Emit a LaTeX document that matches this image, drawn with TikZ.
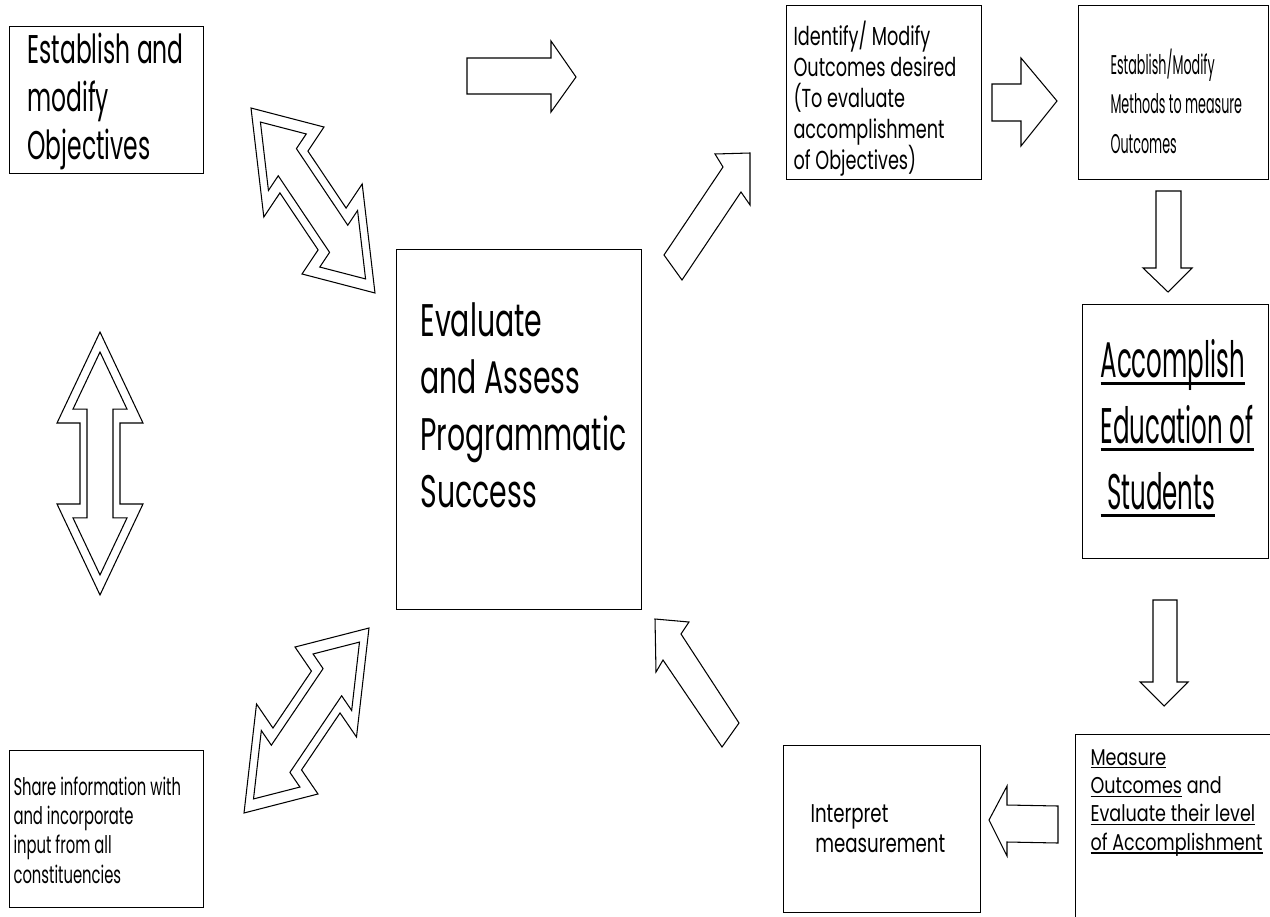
\documentclass[tikz,border=0pt]{standalone}
\usepackage{fontspec}
\setmainfont{Poppins}
\usepackage{tikz}
\newcommand{\uln}[1]{\setbox0\hbox{#1}\rlap{\rule[-0.15em]{\wd0}{0.06em}}\box0\relax}
\newcommand{\boxtext}[2]{\scalebox{#1}[1]{\vtop{\lineskiplimit=-\maxdimen\let\\\cr\halign{##\hfil\cr#2\crcr}}}}

\begin{document}
\begin{tikzpicture}[x=0.02cm,y=-0.02cm,line width=0.6pt]
\tikzstyle{box}=[draw,inner sep=0pt,anchor=north west]
\tikzstyle{txt}=[inner sep=0pt,anchor=base west]
\useasboundingbox (0,0) rectangle (1270,916);
\node[box,minimum width=3.88cm,minimum height=2.94cm] (obj) at (9,26) {};
\node[box,minimum width=4.9cm,minimum height=7.2cm] (eval) at (396,249) {};
\node[box,minimum width=3.9cm,minimum height=3.48cm] (ident) at (786,5) {};
\node[box,minimum width=3.8cm,minimum height=3.48cm] (meth) at (1078,5) {};
\node[box,minimum width=3.72cm,minimum height=5.08cm] (acc) at (1082,304) {};
\node[box,minimum width=4cm,minimum height=3.8cm] (meas) at (1075,734) {};
\node[box,minimum width=3.94cm,minimum height=3.34cm] (interp) at (783,745) {};
\node[box,minimum width=3.88cm,minimum height=3.14cm] (share) at (9,750) {};
\node[txt,font=\fontsize{22.8}{27.6}\selectfont] (objtxt) at ([shift={(18,37)}]obj.north west)
  {\boxtext{0.585}{Establish and\\modify\\Objectives}};
\node[txt,font=\fontsize{26}{32.6}\selectfont] (evaltxt) at ([shift={(24,87)}]eval.north west)
  {\boxtext{0.62}{Evaluate\\and Assess\\Programmatic\\Success}};
\node[txt,font=\fontsize{14.8}{17.7}\selectfont] (identtxt) at ([shift={(7,40)}]ident.north west)
  {\boxtext{0.68}{Identify/ Modify\\Outcomes desired\\(To evaluate\\accomplishment\\of Objectives)}};
\node[txt,font=\fontsize{15.4}{22.5}\selectfont] (methtxt) at ([shift={(32,69)}]meth.north west)
  {\boxtext{0.47}{Establish/Modify\\Methods to measure\\Outcomes}};
\node[txt,font=\fontsize{28.5}{37.8}\selectfont] (acctxt) at ([shift={(18,73)}]acc.north west)
  {\boxtext{0.49}{\uln{Accomplish}\\\uln{Education of}\\\uln{\ Students}}};
\node[txt,font=\fontsize{13}{16.2}\selectfont] (meastxt) at ([shift={(15,31)}]meas.north west)
  {\boxtext{0.77}{\uln{Measure}\\\uln{Outcomes} and\\\uln{Evaluate their level}\\\uln{of Accomplishment}}};
\node[txt,font=\fontsize{14.6}{17.6}\selectfont] (interptxt) at ([shift={(27,77)}]interp.north west)
  {\boxtext{0.71}{Interpret\\\hspace*{3.8pt}measurement}};
\node[txt,font=\fontsize{13.8}{16.7}\selectfont] (sharetxt) at ([shift={(4,45)}]share.north west)
  {\boxtext{0.61}{Share information with\\and incorporate\\input from all\\constituencies}};
% block arrows
\draw (467,58) -- (551,58) -- (551,41) -- (576,77) -- (551,112) -- (551,94) -- (467,94) -- cycle;
\draw (992,84) -- (1021,84) -- (1021,58) -- (1057,101) -- (1021,146) -- (1021,121) -- (992,121) -- cycle;
\draw (1156,191) -- (1181,191) -- (1181,268) -- (1192,268) -- (1168,292) -- (1143,268) -- (1156,268) -- cycle;
\draw (1153,600) -- (1177,600) -- (1177,682) -- (1188,682) -- (1164,706) -- (1140,682) -- (1153,682) -- cycle;
\draw (1058,806) -- (1007,805) -- (1007,786) -- (989,820) -- (1007,856) -- (1007,842) -- (1058,843) -- cycle;
\draw (664,255) -- (723,167) -- (715,154) -- (750,153) -- (750,205) -- (741,192) -- (682,280) -- cycle;
\draw (655,619) -- (689,622) -- (681,634) -- (739,723) -- (722,747) -- (663,660) -- (656,672) -- cycle;
% double arrows
\foreach \cx/\cy/\bx/\by/\ax/\ay in {100/463.5/0.86/0/0/-2.63, 313/200.5/0.602/0.9/1.24/-1.85, 306.5/720.5/0.615/-0.9/-1.25/-1.85}{
\begin{scope}[shift={(\cx,\cy)},x={(\bx cm,\by cm)},y={(\ax cm,\ay cm)}]
\draw (0,-1) -- (1,-0.308) -- (0.465,-0.308) -- (0.465,0.308) -- (1,0.308) -- (0,1) -- (-1,0.308) -- (-0.465,0.308) -- (-0.465,-0.308) -- (-1,-0.308) -- cycle;
\draw (0,-0.848) -- (0.628,-0.414) -- (0.302,-0.414) -- (0.302,0.414) -- (0.628,0.414) -- (0,0.848) -- (-0.628,0.414) -- (-0.302,0.414) -- (-0.302,-0.414) -- (-0.628,-0.414) -- cycle;
\end{scope}}
\end{tikzpicture}
\end{document}
